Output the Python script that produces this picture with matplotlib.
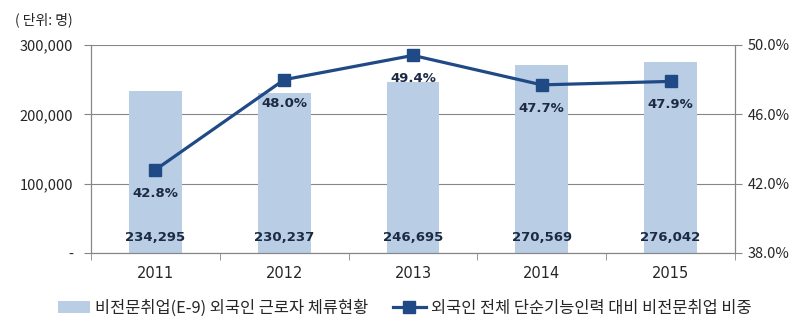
import numpy as np
import matplotlib.pyplot as plt
from matplotlib.ticker import FuncFormatter

plt.rcParams['font.family'] = ['Noto Sans CJK KR', 'DejaVu Sans']

years = ['2011', '2012', '2013', '2014', '2015']
workers = [234295, 230237, 246695, 270569, 276042]
share = [42.8, 48.0, 49.4, 47.7, 47.9]

bar_name = '비전문취업(E-9) 외국인 근로자 체류현황'
line_name = '외국인 전체 단순기능인력 대비 비전문취업 비중'

bar_color = '#b9cde5'
line_color = '#1f4a85'
axis_gray = '#868686'
text_color = '#262626'
label_color = '#1c2a44'

fig = plt.figure(figsize=(8.09, 3.36), dpi=100)
ax = fig.add_axes([91 / 809, 1 - 253 / 336, 644 / 809, 208 / 336])
ax2 = ax.twinx()

x = np.arange(len(years))
ax.bar(x, workers, width=0.41, color=bar_color, zorder=2, label=bar_name)
ax.set_xlim(-0.5, len(years) - 0.5)
ax.set_ylim(0, 300000)
ax.set_yticks([0, 100000, 200000, 300000])
ax.yaxis.set_major_formatter(FuncFormatter(lambda v, p: '-' if v == 0 else f'{int(v):,}'))
ax.grid(axis='y', color=axis_gray, linewidth=0.8, zorder=0)
ax.set_axisbelow(True)

ax.set_xticks(x)
ax.set_xticklabels(years, family='DejaVu Sans', fontsize=10.5)
ax.set_xticks(np.arange(len(years) + 1) - 0.5, minor=True)
ax.tick_params(axis='x', which='major', length=0, pad=9, colors=text_color)
ax.tick_params(axis='x', which='minor', length=5, color=axis_gray, direction='out')
ax.tick_params(axis='y', length=5, color=axis_gray, labelsize=10.5, colors=text_color, pad=8)

ax.spines['top'].set_visible(False)
ax2.spines['top'].set_visible(False)
for a in (ax, ax2):
    for s in ['left', 'right', 'bottom']:
        a.spines[s].set_color(axis_gray)
        a.spines[s].set_linewidth(0.8)

for xi, v in zip(x, workers):
    ax.text(xi, 22000, f'{v:,}', ha='center', va='center', fontsize=9.5,
            fontweight='bold', color=label_color, family='DejaVu Sans', zorder=5)

ax2.plot(x, share, color=line_color, linewidth=2.3, marker='s', markersize=9,
         zorder=4, label=line_name)
ax2.set_ylim(38, 50)
ax2.set_yticks([38, 42, 46, 50])
ax2.yaxis.set_major_formatter(FuncFormatter(lambda v, p: f'{v:.1f}%'))
ax2.tick_params(axis='y', length=5, color=axis_gray, labelsize=10.5, colors=text_color, pad=4)

for xi, v in zip(x, share):
    ax2.text(xi, v - 1.35, f'{v:.1f}%', ha='center', va='center', fontsize=9.5,
             fontweight='bold', color=label_color, family='DejaVu Sans', zorder=5)

fig.text(15 / 809, 1 - 20 / 336, '( 단위: 명)', fontsize=10, color=text_color,
         va='center', ha='left')

h1, l1 = ax.get_legend_handles_labels()
h2, l2 = ax2.get_legend_handles_labels()
fig.legend(h1 + h2, l1 + l2, loc='center', bbox_to_anchor=(0.5, 1 - 308 / 336),
           ncol=2, frameon=False, fontsize=11.8, handlelength=2.0, columnspacing=1.5,
           handletextpad=0.3, labelcolor=text_color)

fig.savefig('out.png', dpi=100)
